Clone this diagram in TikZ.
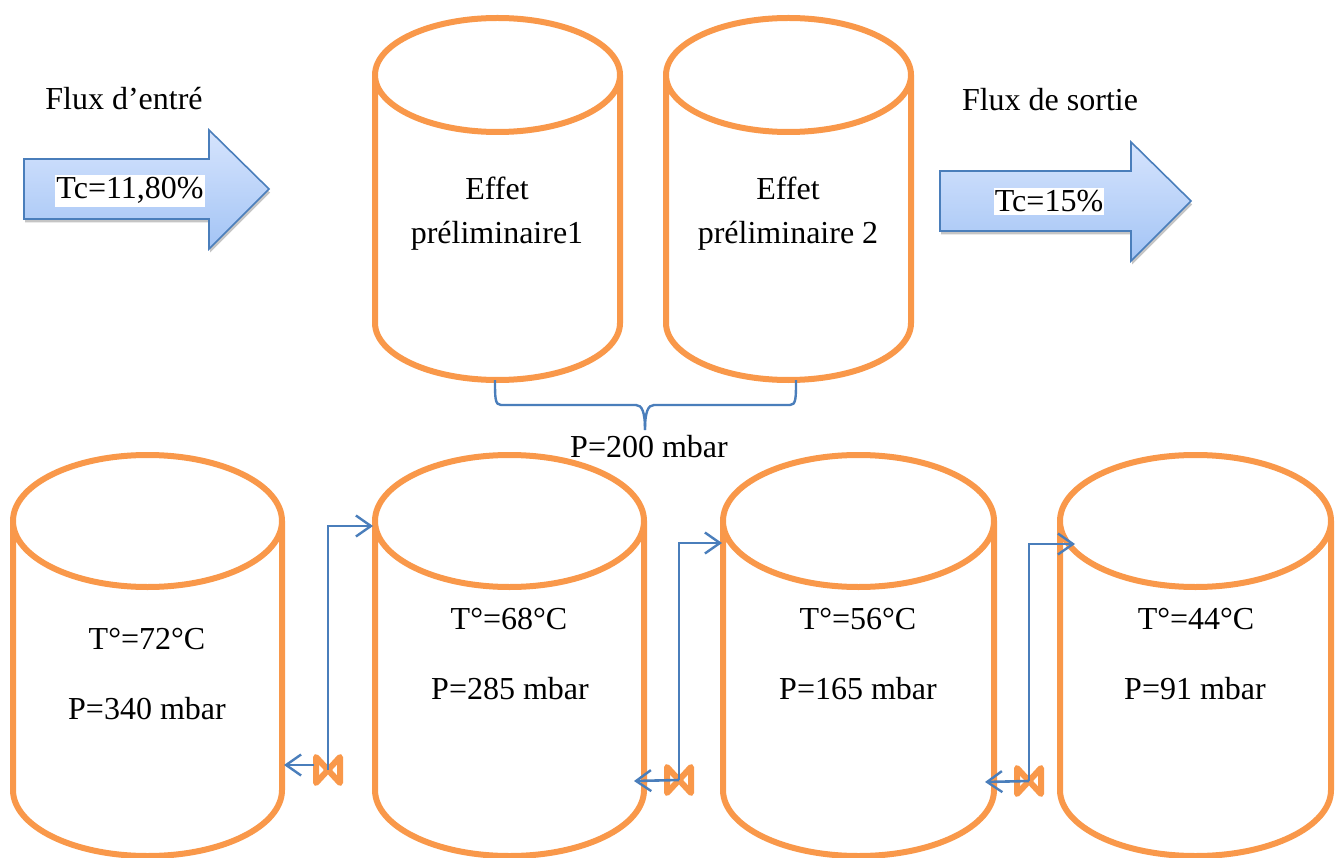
\documentclass[tikz,border=0pt]{standalone}
\usepackage{fontspec}
\setmainfont{Liberation Serif}
\usetikzlibrary{arrows.meta,shadows}
\definecolor{cylor}{HTML}{F9984A}
\definecolor{linkblue}{HTML}{4A7EBB}
\definecolor{arrtop}{HTML}{D6E4FD}
\definecolor{arrbot}{HTML}{A3C4F5}
\tikzset{
  cylshape/.style={draw=cylor,line width=6pt,line join=round},
  bigarrow/.style={draw=linkblue,line width=1.6pt,top color=arrtop,bottom color=arrbot,
    drop shadow={shadow xshift=1pt,shadow yshift=-3.5pt,opacity=.45}},
  lbl/.style={anchor=base,inner sep=0pt,font=\fontsize{32}{36}\selectfont,text=black},
  boxlbl/.style={lbl,fill=white,inner xsep=1pt,inner ysep=3pt},
  link/.style={draw=linkblue,line width=2.6pt,-{Straight Barb[length=15pt,width=21pt,line width=2.4pt]}},
  plain/.style={draw=linkblue,line width=2.4pt},
  valveshape/.style={draw=cylor,line width=6pt,line join=round,fill=white},
}
% name, left x, right x, ellipse-centre y top, ellipse-centre y bottom, ry
\newcommand{\mycyl}[6]{%
  \pgfmathsetmacro{\cxx}{(#2+#3)/2}\pgfmathsetmacro{\rxx}{(#3-#2)/2}
  \draw[cylshape] (#2,#4) arc[start angle=180,end angle=540,x radius=\rxx,y radius=#6]
     (#2,#4) -- (#2,#5) arc[start angle=180,end angle=360,x radius=\rxx,y radius=-#6] -- (#3,#4);
  \coordinate (#1) at (\cxx,#5);
}
\newcommand{\myvalve}[4]{% name, x, y, half width
  \draw[valveshape] (#2-#4,#3-13) -- (#2+#4,#3+13) -- (#2+#4,#3-13) -- (#2-#4,#3+13) -- cycle;
  \coordinate (#1) at (#2,#3);
}
\begin{document}
\begin{tikzpicture}[x=1pt,y=-1pt]
\useasboundingbox (0,0) rectangle (1335,858);
\fill[white] (0,0) rectangle (1335,858);
% arrows
\path[bigarrow] (24,159) -- (209,159) -- (209,130) -- (269,189) -- (209,249) -- (209,219) -- (24,219) -- cycle;
\path[bigarrow] (940,171) -- (1131,171) -- (1131,142) -- (1191,201) -- (1131,261) -- (1131,231) -- (940,231) -- cycle;
% cylinders
\mycyl{c1}{375}{620}{75}{323}{57}
\mycyl{c2}{666}{911}{75}{323}{57}
\mycyl{d1}{13}{282}{521}{790}{66}
\mycyl{d2}{375}{644}{521}{790}{66}
\mycyl{d3}{723}{994}{521}{790}{66}
\mycyl{d4}{1060}{1331}{521}{790}{66}
% brace
\coordinate (bl) at (495,380);
\coordinate (br) at (796,380);
\coordinate (bm) at (645,430);
\draw[plain] (bl) .. controls (495,398) and (495,405) .. (501,405) -- (636,405)
  .. controls (642,405) and (645,412) .. (bm);
\draw[plain] (br) .. controls (796,398) and (796,405) .. (790,405) -- (654,405)
  .. controls (648,405) and (645,412) .. (bm);
% valves
\myvalve{v1}{328}{770}{12}
\myvalve{v2}{679}{780}{12}
\myvalve{v3}{1029}{781}{12}
\coordinate (i1) at (373,526);\coordinate (i2) at (722,543);\coordinate (i3) at (1075,544);
\coordinate (o1) at (284,765);\coordinate (o2) at (634,781);\coordinate (o3) at (985,782);
\coordinate (s1) at (314,765);
\draw[link] (v1) -- (v1|-i1) -- (i1);
\draw[link] (s1) -- (o1);
\draw[link] (v2) -- (v2|-i2) -- (i2);
\draw[link] (v2) -- (o2);
\draw[link] (v3) -- (v3|-i3) -- (i3);
\draw[link] (v3) -- (o3);
% labels
\node[lbl] (t1) at (124,110) {Flux d’entré};
\node[lbl] (t2) at (1050,111) {Flux de sortie};
\node[boxlbl] (t3) at (130,199) {Tc=11,80\%};
\node[boxlbl] (t4) at (1049,212) {Tc=15\%};
\node[lbl] (t5) at (497,200) {Effet};
\node[lbl] (t6) at (497,244) {préliminaire1};
\node[lbl] (t7) at (788,200) {Effet};
\node[lbl] (t8) at (788,244) {préliminaire 2};
\node[lbl] (t9) at (649,457) {P=200 mbar};
\node[lbl] (t10) at (147,649) {T°=72°C};
\node[lbl] (t11) at (147,719) {P=340 mbar};
\node[lbl] (t12) at (509,629) {T°=68°C};
\node[lbl] (t13) at (510,699) {P=285 mbar};
\node[lbl] (t14) at (858,629) {T°=56°C};
\node[lbl] (t15) at (858,699) {P=165 mbar};
\node[lbl] (t16) at (1196,629) {T°=44°C};
\node[lbl] (t17) at (1195,699) {P=91 mbar};
\end{tikzpicture}
\end{document}
